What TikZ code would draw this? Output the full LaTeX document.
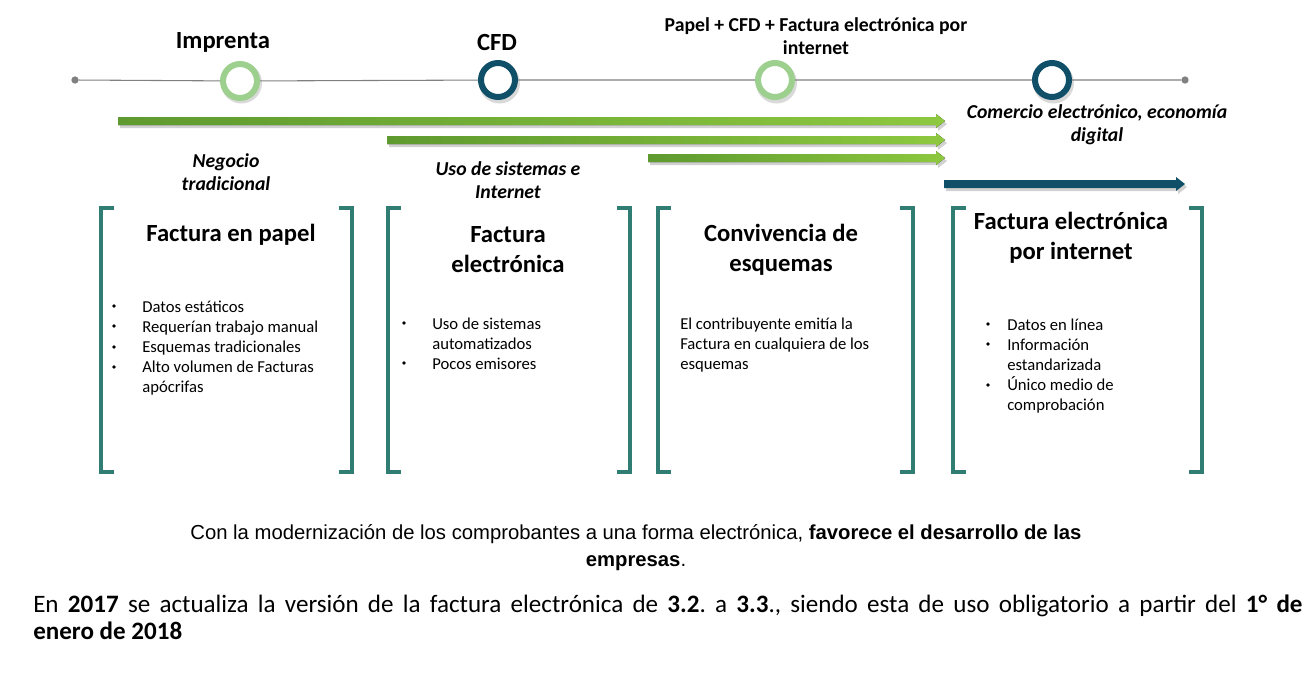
\documentclass[tikz,border=0pt]{standalone}
\usepackage{fontspec}
\setmainfont{Carlito}
\newfontfamily\arialfont{Liberation Sans}
\frenchspacing
\definecolor{lgreen}{HTML}{9DD08E}
\definecolor{dteal}{HTML}{0F5068}
\definecolor{brk}{HTML}{2F7D73}
\definecolor{gdark}{HTML}{5E9A2F}
\definecolor{glight}{HTML}{8DC83F}
\definecolor{tl}{HTML}{808080}
\newcommand{\myarrow}[4]{%
  \fill[black!18] (#1+2,#3-4+3) -- (#2-9+2,#3-4+3) -- (#2-9+2,#3-7+3) -- (#2+2,#3+3) -- (#2-9+2,#3+7+3) -- (#2-9+2,#3+4+3) -- (#1+2,#3+4+3) -- cycle;
  \fill[#4] (#1,#3-4) -- (#2-9,#3-4) -- (#2-9,#3-7) -- (#2,#3) -- (#2-9,#3+7) -- (#2-9,#3+4) -- (#1,#3+4) -- cycle;}
\tikzset{
  ring/.style={circle, minimum size=34*0.75pt, inner sep=0pt, line width=4.5pt, fill=white},
  enddot/.style={circle, fill=tl, minimum size=5.5pt, inner sep=0pt},
  phase/.style={font=\fontsize{18.5}{22.5}\selectfont\bfseries, align=center},
  toplabel/.style={font=\fontsize{14.8}{17}\selectfont\bfseries, align=center},
  itlabel/.style={font=\fontsize{14.8}{17.2}\selectfont\bfseries\itshape, align=center},
  bodytext/.style={font=\fontsize{12.5}{15}\selectfont, align=left, anchor=north west, inner sep=0pt},
  brack/.style={draw=brk, line width=2.4pt},
}
\begin{document}
\begin{tikzpicture}[x=0.75pt,y=-0.75pt]
\useasboundingbox (0,0) rectangle (1314,672);
% timeline
\node[enddot] (d0) at (75,80) {};
\node[enddot] (d1) at (1185,80) {};
\foreach \x/\n in {240/c1,498/c2,775/c3,1052/c4}{\fill[black!15] (\x+1.5,83) circle (20.5);}
\node[ring, draw=lgreen] (c1) at (240,81) {};
\node[ring, draw=dteal] (c2) at (498,80) {};
\node[ring, draw=lgreen] (c3) at (775,80) {};
\node[ring, draw=dteal] (c4) at (1052,80) {};
\draw[tl, line width=0.8pt] (d0) -- (c1) (c1) -- (c2) (c2) -- (c3) (c3) -- (c4) (c4) -- (d1);
% top labels
\node[phase] (l1) at (223,42) {Imprenta};
\node[phase] (l2) at (497,42) {CFD};
\node[toplabel] (l3) at (816,36) {Papel + CFD + Factura electrónica por\\internet};
% arrows
\myarrow{118}{945}{121}{left color=gdark, right color=glight}
\myarrow{387}{945}{140}{left color=gdark, right color=glight}
\myarrow{648}{945}{158}{left color=gdark, right color=glight}
\myarrow{944}{1185}{184}{dteal}
% italic labels
\node[itlabel] (n1) at (226,172) {Negocio\\tradicional};
\node[itlabel] (n2) at (508,180) {Uso de sistemas e\\Internet};
\node[itlabel] (n3) at (1097,125) {Comercio electrónico, economía\\digital};
% brackets
\foreach \l/\r in {101/352,388/630,658/913,953/1202}{
  \draw[brack] (\l+13,208) -- (\l,208) -- (\l,472) -- (\l+13,472);
  \draw[brack] (\r-13,208) -- (\r,208) -- (\r,472) -- (\r-13,472);
}
% titles
\node[phase] (t1) at (231,235) {Factura en papel};
\node[phase] (t2) at (508,250) {Factura\\electrónica};
\node[phase] (t3) at (781,250) {Convivencia de\\esquemas};
\node[phase] (t4) at (1071,238) {Factura electrónica\\por internet};
% bullets box 1
\node[bodytext] (b1) at (142,301) {Datos estáticos\\Requerían trabajo manual\\Esquemas tradicionales\\Alto volumen de Facturas\\apócrifas};
\foreach \y in {306,326,347,367}{\fill (114,\y) circle (1.8);}
% box 2
\node[bodytext] (b2) at (432,318) {Uso de sistemas\\automatizados\\Pocos emisores};
\foreach \y in {323,363}{\fill (404,\y) circle (1.8);}
% box 3
\node[bodytext] (b3) at (680,318) {El contribuyente emitía la\\Factura en cualquiera de los\\esquemas};
% box 4
\node[bodytext] (b4) at (1007,319) {Datos en línea\\Información\\estandarizada\\Único medio de\\comprobación};
\foreach \y in {324,344,385}{\fill (988,\y) circle (1.8);}
% bottom texts
\node[font=\arialfont\fontsize{15.2}{20.25}\selectfont, align=center] (m1) at (636,548) {Con la modernización de los comprobantes a una forma electrónica, \textbf{favorece el desarrollo de las}\\\textbf{empresas}.};
\node[font=\fontsize{18.8}{20.25}\selectfont, text width=952pt, align=justify, anchor=north west, inner sep=0pt] (m2) at (33,595) {En \textbf{2017} se actualiza la versión de la factura electrónica de \textbf{3.2}. a \textbf{3.3}., siendo esta de uso obligatorio a partir del \textbf{1° de}\linebreak \textbf{enero de 2018}};
\end{tikzpicture}
\end{document}
